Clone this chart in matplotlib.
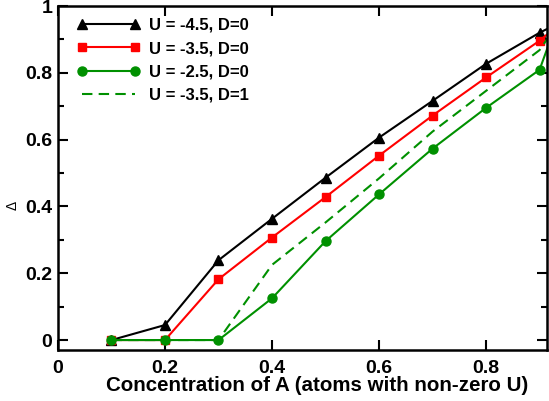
import matplotlib
matplotlib.use("Agg")
import matplotlib.pyplot as plt
from matplotlib.ticker import MultipleLocator, FormatStrFormatter

plt.rcParams['font.family'] = ['Liberation Sans', 'DejaVu Sans']
plt.rcParams['font.weight'] = 'bold'

# concentration of A
conc = [0.1, 0.2, 0.3, 0.4, 0.5, 0.6, 0.7, 0.8, 0.9, 1.0]

# gap Delta for each parameter set
delta_u45 = [0.0, 0.045, 0.239, 0.363, 0.486, 0.606, 0.716, 0.827, 0.920, 1.0]
delta_u35 = [0.0, 0.0, 0.182, 0.307, 0.428, 0.552, 0.672, 0.786, 0.896, 1.03]
delta_u25 = [0.0, 0.0, 0.0, 0.125, 0.296, 0.436, 0.573, 0.695, 0.809, 1.25]
delta_u35_d1 = [0.0, 0.0, 0.0, 0.225, 0.352, 0.484, 0.624, 0.746, 0.868, 1.1]

labels = ['U = -4.5, D=0', 'U = -3.5, D=0', 'U = -2.5, D=0', 'U = -3.5, D=1']

green = '#009000'

fig = plt.figure(figsize=(5.49, 4.01), dpi=100)
ax = fig.add_axes([0.1056, 0.127, 0.8908, 0.858])

ax.plot(conc, delta_u45, color='black', lw=1.5, marker='^', ms=7, label=labels[0])
ax.plot(conc, delta_u35, color='red', lw=1.5, marker='s', ms=5.5, label=labels[1])
ax.plot(conc, delta_u25, color=green, lw=1.5, marker='o', ms=6.5, label=labels[2])
ax.plot(conc, delta_u35_d1, color=green, lw=1.5, ls=(0, (5, 3)), label=labels[3])

ax.set_xlim(0, 0.914)
ax.set_ylim(-0.03, 1.0)

ax.xaxis.set_major_locator(MultipleLocator(0.2))
ax.yaxis.set_major_locator(MultipleLocator(0.2))
ax.yaxis.set_minor_locator(MultipleLocator(0.1))
ax.xaxis.set_major_formatter(FormatStrFormatter('%g'))
ax.yaxis.set_major_formatter(FormatStrFormatter('%g'))

ax.tick_params(which='both', direction='in', top=True, right=True, width=1.5)
ax.tick_params(which='major', length=7, labelsize=14)
ax.tick_params(which='minor', length=4)
ax.tick_params(axis='x', pad=7)
ax.tick_params(axis='y', pad=4)
for sp in ax.spines.values():
    sp.set_linewidth(1.8)

ax.set_xlabel('Concentration of A (atoms with non-zero U)', fontsize=14.8,
              fontweight='bold')
ax.xaxis.set_label_coords(0.53, -0.075)
ax.set_ylabel('\u0394', fontsize=10, fontweight='normal')
ax.yaxis.set_label_coords(-0.078, 0.42)

leg = ax.legend(loc='upper left', frameon=False, fontsize=12, numpoints=2,
                handlelength=3.8, handletextpad=0.5, labelspacing=0.5,
                borderaxespad=0.3, bbox_to_anchor=(0.015, 1.0))

fig.savefig('out.png', dpi=100)
